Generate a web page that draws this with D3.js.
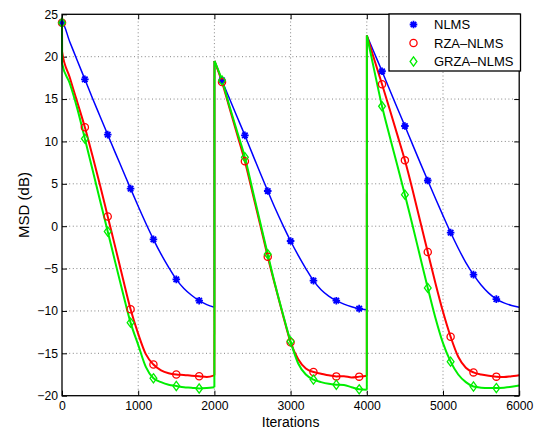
<!DOCTYPE html>
<html><head><meta charset="utf-8">
<script src="https://cdn.jsdelivr.net/npm/d3@7"></script>
<style>body{margin:0;background:#fff}svg{display:block}text{font-family:"Liberation Sans",Arial,Helvetica,sans-serif}</style>
</head><body><svg id="c" width="545" height="429"></svg>
<script>
const iterations = [0,1,100,200,300,400,500,600,700,800,900,1000,1100,1200,1300,1400,1500,1600,1700,1800,1900,2000,
 2001,2100,2200,2300,2400,2500,2600,2700,2800,2900,3000,3100,3200,3300,3400,3500,3600,3700,3800,3900,4000,
 4001,4100,4200,4300,4400,4500,4600,4700,4800,4900,5000,5100,5200,5300,5400,5500,5600,5700,5800,5900,6000];
const nlms = [24,24,21.8,19.55,17.33,15.1,12.95,10.8,8.65,6.55,4.43,2.35,0.35,-1.55,-3.3,-4.85,-6.27,-7.35,-8.15,-8.79,-9.25,-9.57,
 19.5,17.2,15.0,12.85,10.72,8.5,6.3,4.15,2.05,0.1,-1.75,-3.45,-5.0,-6.43,-7.5,-8.25,-8.79,-9.2,-9.5,-9.73,-9.85,
 22.5,20.4,18.28,16.1,13.95,11.82,9.65,7.5,5.39,3.3,1.25,-0.75,-2.6,-4.3,-5.72,-6.95,-7.9,-8.6,-9.05,-9.35,-9.57];
const rza = [24,20.6,17.6,14.65,11.67,8.3,4.8,1.15,-2.5,-6.2,-9.8,-12.7,-15.1,-16.32,-17.0,-17.35,-17.5,-17.55,-17.65,-17.7,-17.8,-17.6,
 19.5,17.0,13.9,10.8,7.66,3.95,0.2,-3.6,-7.1,-10.5,-13.7,-15.7,-16.8,-17.2,-17.4,-17.6,-17.72,-17.7,-17.85,-17.75,-17.65,
 22.5,19.6,16.74,13.8,10.8,7.77,4.3,0.6,-3.05,-6.7,-10.1,-13.04,-15.4,-16.7,-17.25,-17.5,-17.65,-17.75,-17.8,-17.7,-17.6];
const grza = [24,19.2,16.9,13.9,10.33,6.7,3.0,-0.62,-4.3,-7.9,-11.38,-14.0,-16.6,-17.95,-18.4,-18.7,-18.85,-19.0,-19.05,-19.15,-19.1,-19.0,
 19.5,17.2,14.1,11.1,8.13,4.3,0.5,-3.3,-7.0,-10.4,-13.6,-16.2,-17.5,-18.1,-18.4,-18.6,-18.7,-18.75,-19.0,-19.25,-19.3,
 22.5,18.3,14.15,10.6,7.2,3.72,0.1,-3.6,-7.28,-10.8,-13.8,-15.98,-17.5,-18.4,-18.92,-19.05,-19.1,-19.1,-19.05,-18.95,-18.8];
const markerIterations = [0,300,600,900,1200,1500,1800,2100,2400,2700,3000,3300,3600,3900,4200,4500,4800,5100,5400,5700];
const seriesNames = ["NLMS","RZA–NLMS","GRZA–NLMS"];
const xTicks = [0,1000,2000,3000,4000,5000,6000];
const yTicks = [-20,-15,-10,-5,0,5,10,15,20,25];

const svg = d3.select("#c");
const L=62, R=519.2, T=14.3, B=395.7;
const x = d3.scaleLinear().domain([0,6000]).range([L,R]);
const y = d3.scaleLinear().domain([-20,25]).range([B,T]);
const fmt = v => String(v).replace("-","\u2212");

// grid
const g = svg.append("g");
g.selectAll(".gx").data(xTicks.filter(t=>t>0&&t<6000)).enter().append("line")
 .attr("x1",d=>x(d)).attr("x2",d=>x(d)).attr("y1",T).attr("y2",B)
 .attr("stroke","#666").attr("stroke-width",0.8).attr("stroke-dasharray","1,2.6");
g.selectAll(".gy").data(yTicks.filter(t=>t>-20&&t<25)).enter().append("line")
 .attr("y1",d=>y(d)).attr("y2",d=>y(d)).attr("x1",L).attr("x2",R)
 .attr("stroke","#666").attr("stroke-width",0.8).attr("stroke-dasharray","1,2.6");

// axes
const ax = svg.append("g").attr("transform",`translate(0,${B})`).call(d3.axisBottom(x).tickValues(xTicks).tickSize(-5).tickPadding(6).tickFormat(fmt));
const ay = svg.append("g").attr("transform",`translate(${L},0)`).call(d3.axisLeft(y).tickValues(yTicks).tickSize(-5).tickPadding(4).tickFormat(fmt));
const axT = svg.append("g").attr("transform",`translate(0,${T})`).call(d3.axisTop(x).tickValues(xTicks).tickSize(-5).tickFormat(""));
const ayR = svg.append("g").attr("transform",`translate(${R},0)`).call(d3.axisRight(y).tickValues(yTicks).tickSize(-5).tickFormat(""));
[ax,ay,axT,ayR].forEach(a=>{a.select(".domain").remove();a.selectAll("line").attr("stroke","#000").attr("stroke-width",1);
 a.selectAll("text").attr("font-size","12.2px").attr("fill","#000").attr("font-family","Liberation Sans, Arial, sans-serif");});

// lines
const colors = ["#0000ff","#ff0000","#00ee00"];
const data = [nlms,rza,grza];
const line = d3.line().x(d=>x(d[0])).y(d=>y(d[1])).curve(d3.curveMonotoneX);
const segs = [[0,21],[22,42],[43,63]];
const lg = svg.append("g");
data.forEach((vals,si)=>{
  const pts = iterations.map((it,i)=>[it,vals[i]]);
  for(let k=0;k<2;k++){
    const a=pts[segs[k][1]], b=pts[segs[k+1][0]];
    lg.append("path").attr("d",d3.line().x(d=>x(d[0])).y(d=>y(d[1]))([a,b]))
      .attr("stroke",colors[si]).attr("stroke-width",si===0?1.5:2).attr("fill","none");
  }
  segs.forEach(s=>{
    lg.append("path").attr("d",line(pts.slice(s[0],s[1]+1))).attr("stroke",colors[si])
      .attr("stroke-width",si===0?1.5:2).attr("fill","none").attr("stroke-linejoin","round");
  });
});

function marker(sel,si,cx,cy){
  if(si===0){
    const r=3.8,q=r*0.72;
    sel.append("path").attr("d",`M${cx-r},${cy}L${cx+r},${cy}M${cx},${cy-r}L${cx},${cy+r}M${cx-q},${cy-q}L${cx+q},${cy+q}M${cx-q},${cy+q}L${cx+q},${cy-q}`)
      .attr("stroke",colors[0]).attr("stroke-width",1.8).attr("fill","none");
  } else if(si===1){
    sel.append("circle").attr("cx",cx).attr("cy",cy).attr("r",3.6).attr("fill","none").attr("stroke",colors[1]).attr("stroke-width",1.3);
  } else {
    sel.append("path").attr("d",`M${cx},${cy-4.6}L${cx+3.4},${cy}L${cx},${cy+4.6}L${cx-3.4},${cy}Z`)
      .attr("fill","none").attr("stroke",colors[2]).attr("stroke-width",1.3);
  }
}
const mg = svg.append("g");
data.forEach((vals,si)=>{
  markerIterations.forEach(m=>{
    const i = iterations.indexOf(m);
    marker(mg,si,x(m),y(vals[i]));
  });
});

// box
svg.append("rect").attr("x",L).attr("y",T).attr("width",R-L).attr("height",B-T).attr("fill","none").attr("stroke","#000").attr("stroke-width",1.3);

// labels
svg.append("text").attr("x",(L+R)/2).attr("y",426.5).attr("text-anchor","middle").attr("font-size","14px").text("Iterations");
svg.append("text").attr("transform",`translate(28.5,${(T+B)/2}) rotate(-90)`).attr("text-anchor","middle").attr("font-size","15px").text("MSD (dB)");

// legend
const leg = svg.append("g");
leg.append("rect").attr("x",389).attr("y",14).attr("width",131.5).attr("height",57).attr("fill","#fff").attr("stroke","#000").attr("stroke-width",1.3);
const rows=[24.5,43,61.5];
seriesNames.forEach((n,i)=>{
  marker(leg,i,413.5,rows[i]);
  leg.append("text").attr("x",434).attr("y",rows[i]+4.6).attr("font-size","13px").text(n);
});
</script></body></html>
